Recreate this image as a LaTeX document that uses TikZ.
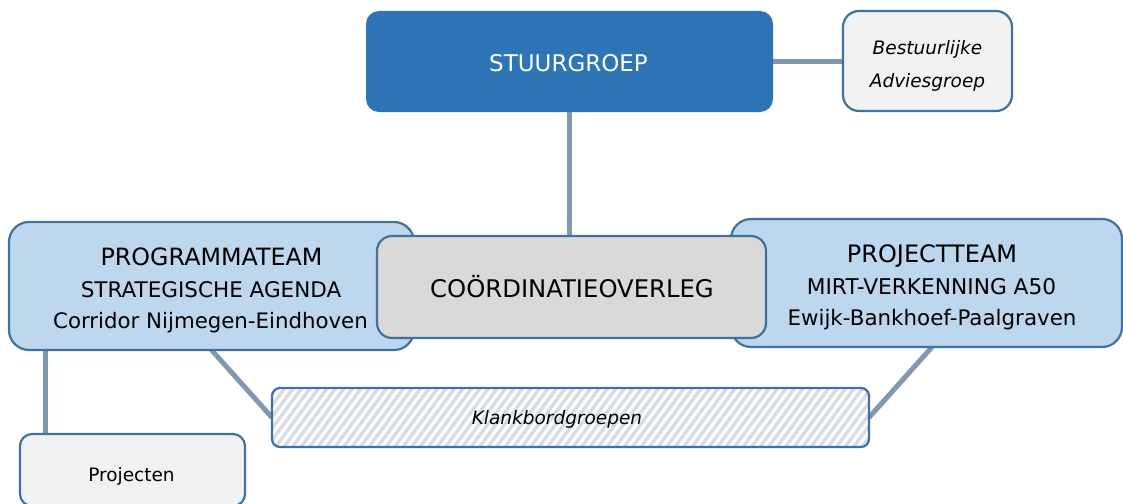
\documentclass[tikz,border=0pt]{standalone}
\usepackage{fontspec}
\setmainfont{DejaVu Sans}
\usetikzlibrary{backgrounds}
\definecolor{sgblue}{HTML}{2E75B6}
\definecolor{bordblue}{HTML}{41719C}
\definecolor{lightblue}{HTML}{BDD7EE}
\definecolor{lgray}{HTML}{D9D9D9}
\definecolor{vlgray}{HTML}{F2F2F2}
\definecolor{connc}{HTML}{8497B0}
\definecolor{stripec}{HTML}{D6DCE5}
\newcommand{\fsz}[1]{\fontsize{#1}{#1}\selectfont}
\begin{document}
\begin{tikzpicture}[x=1pt,y=-1pt,
  box/.style={draw=bordblue,line width=2.2pt,rectangle,inner sep=0pt,outer sep=0pt},
  conn/.style={draw=connc,line width=5pt},
  lbl/.style={anchor=base,inner sep=0pt,outer sep=0pt},
  stripe/.style={draw=stripec,line width=3.3pt}]
\useasboundingbox (0,0) rectangle (1123,503);
\clip (0,0) rectangle (1123,503);
% boxes
\node[box,draw=none,fill=sgblue,rounded corners=13pt,minimum width=407pt,minimum height=101pt] (sg) at (569.5,61.5) {};
\node[box,fill=vlgray,rounded corners=16pt,minimum width=169pt,minimum height=100pt] (ba) at (927.5,61) {};
\node[box,fill=lightblue,rounded corners=20pt,minimum width=405pt,minimum height=128pt] (pg) at (211.5,286) {};
\node[box,fill=lightblue,rounded corners=20pt,minimum width=391pt,minimum height=128pt] (pt) at (926.5,283) {};
\node[box,fill=lgray,rounded corners=15pt,minimum width=389pt,minimum height=102pt] (co) at (571.5,287) {};
\node[box,fill=white,rounded corners=8pt,minimum width=597pt,minimum height=59pt,
  path picture={\foreach \i in {0,...,82}
    \draw[stripe] ([xshift=\i*8.5pt-90pt]path picture bounding box.south west) -- ++(55,-75);}] (kb) at (570.5,417.5) {};
\node[box,fill=vlgray,rounded corners=12pt,minimum width=225pt,minimum height=72pt] (pj) at (132.5,470) {};
% connectors
\begin{pgfonlayer}{background}
\draw[conn] (sg.east) -- (sg.east -| ba.west);
\draw[conn] (sg.south) -- (sg.south |- co.north);
\draw[conn] ([xshift=25pt]pj.north west |- pg.south) -- ([xshift=25pt]pj.north west);
\draw[conn] (pg.south) -- (kb.west);
\draw[conn] ([xshift=5.5pt]pt.south) -- (kb.east);
\end{pgfonlayer}
% labels
\node[lbl,text=white] (t1) at (568.5,71.5) {\fsz{23}STUURGROEP};
\node[lbl] (t2) at (927.5,55) {\fsz{18.5}\itshape Bestuurlijke};
\node[lbl] (t3) at (927.5,87) {\fsz{18.5}\itshape Adviesgroep};
\node[lbl] (t4) at (211.5,265) {\fsz{23.8}PROGRAMMATEAM};
\node[lbl] (t5) at (211,297) {\fsz{21.5}STRATEGISCHE AGENDA};
\node[lbl] (t6) at (210.5,328) {\fsz{21.3}Corridor Nijmegen-Eindhoven};
\node[lbl] (t7) at (572,297.5) {\fsz{24.3}COÖRDINATIEOVERLEG};
\node[lbl] (t8) at (932,262) {\fsz{24}PROJECTTEAM};
\node[lbl] (t9) at (931.5,294) {\fsz{21.7}MIRT-VERKENNING A50};
\node[lbl] (t10) at (932,325) {\fsz{21.4}Ewijk-Bankhoef-Paalgraven};
\node[lbl] (t11) at (557,424) {\fsz{18.5}\itshape Klankbordgroepen};
\node[lbl] (t12) at (131.5,481) {\fsz{18.5}Projecten};
\end{tikzpicture}
\end{document}
